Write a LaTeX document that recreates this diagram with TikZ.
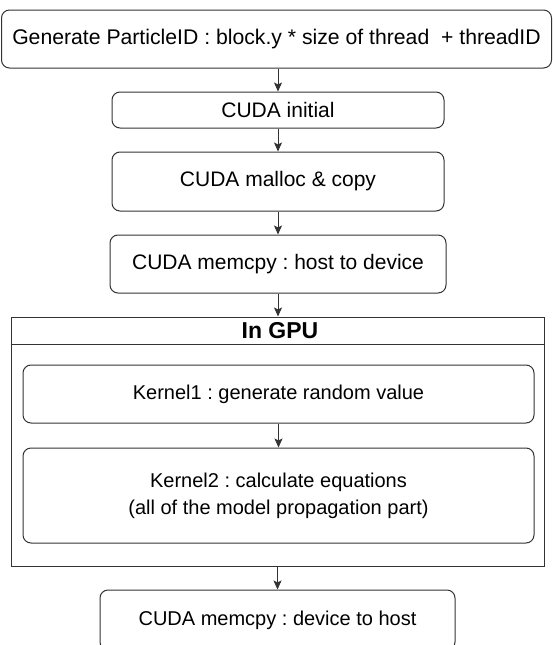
\documentclass[tikz,border=0pt]{standalone}
\usepackage{fontspec}
\setmainfont{Liberation Sans}
\usetikzlibrary{arrows.meta, positioning}
\frenchspacing

\tikzset{
  boite/.style={draw=black!80, line width=1pt, rounded corners=8pt, align=center, inner sep=0pt},
  grand/.style={font=\fontsize{21}{26}\selectfont},
  cadre/.style={draw=black!80, line width=1pt, inner sep=0pt},
  fleche/.style={draw=black!80, line width=1pt, -{Stealth[length=9pt,width=8pt,inset=2pt]}}
}

\begin{document}
\begin{tikzpicture}[x=1pt, y=-1pt, font=\fontsize{20}{27}\selectfont]
  \useasboundingbox (0,0) rectangle (552,645);

  % Boites du haut
  \node[boite, minimum width=550pt, minimum height=58pt, font=\fontsize{21.2}{26}\selectfont] (gen) at (276.5,39) {Generate ParticleID : block.y * size of thread~ + threadID};
  \node[boite, grand, minimum width=332pt, minimum height=36pt] (init) at (278,110) {CUDA initial};
  \node[boite, grand, minimum width=332pt, minimum height=59pt] (malloc) at (278,181.5) {CUDA malloc \& copy};
  \node[boite, grand, minimum width=336pt, minimum height=58pt] (htod) at (278,264) {CUDA memcpy : host to device};

  % Cadre GPU
  \node[cadre, minimum width=533pt, minimum height=249pt] (gpu) at (277.5,441.5) {};
  \node[font=\fontsize{23}{27}\bfseries] (gpuhead) at (280,331) {In GPU};
  \draw[cadre] (gpu.north west) ++(0,28) -- ++(533,0);
  \node[boite, minimum width=511pt, minimum height=58pt] (kone) at (278.5,394) {Kernel1 : generate random value};
  \node[boite, minimum width=511pt, minimum height=95pt] (ktwo) at (278.5,495.5) {Kernel2 : calculate equations\\(all of the model propagation part)};

  % Boite du bas
  \node[boite, minimum width=355pt, minimum height=60pt] (dtoh) at (277.5,620) {CUDA memcpy : device to host};

  % Fleches
  \draw[fleche] (gen.south -| init.north) -- (init.north);
  \draw[fleche] (init) -- (malloc);
  \draw[fleche] (malloc) -- (htod);
  \draw[fleche] (htod.south) -- (htod.south |- gpu.north);
  \draw[fleche] (kone.south) -- (kone.south |- ktwo.north);
  \draw[fleche] (gpu.south -| dtoh.north) -- (dtoh.north);
\end{tikzpicture}
\end{document}
